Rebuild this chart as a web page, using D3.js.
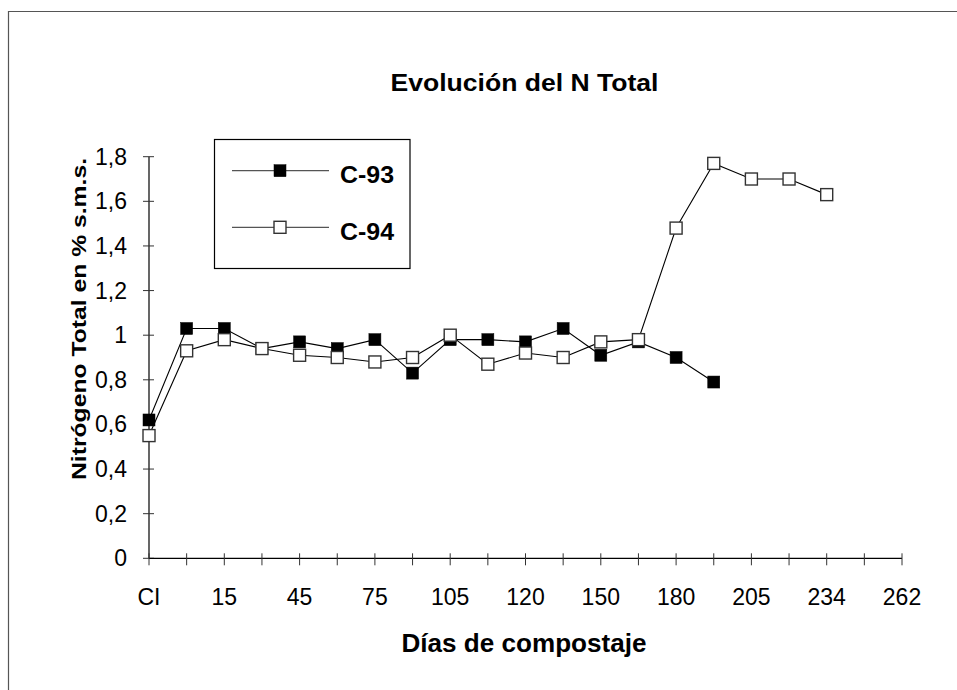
<!DOCTYPE html>
<html>
<head>
<meta charset="utf-8">
<script src="https://cdn.jsdelivr.net/npm/d3@7"></script>
<style>
  html, body { margin: 0; padding: 0; background: #fff; }
  svg { display: block; font-family: "Liberation Sans", Arial, sans-serif; }
</style>
</head>
<body>
<script>
// Composting days (tick labels shown on every other sampling point)
const dayLabels = ["CI", "", "15", "", "45", "", "75", "", "105", "", "120", "", "150", "", "180", "", "205", "", "234", "", "262"];

// Total nitrogen (% dry matter) per sampling point
const seriesC93 = [0.62, 1.03, 1.03, 0.94, 0.97, 0.94, 0.98, 0.83, 0.98, 0.98, 0.97, 1.03, 0.91, 0.97, 0.90, 0.79];
const seriesC94 = [0.55, 0.93, 0.98, 0.94, 0.91, 0.90, 0.88, 0.90, 1.00, 0.87, 0.92, 0.90, 0.97, 0.98, 1.48, 1.77, 1.70, 1.70, 1.63];

const seriesNames = ["C-93", "C-94"];
const yTicks = [0, 0.2, 0.4, 0.6, 0.8, 1, 1.2, 1.4, 1.6, 1.8];

const W = 957, H = 690;
const svg = d3.select("body").append("svg").attr("width", W).attr("height", H);

// Outer frame of the chart area
svg.append("path")
  .attr("d", `M8.5,${H} V11.5 H${W}`)
  .attr("fill", "none").attr("stroke", "#555").attr("stroke-width", 1.2);

const x = d3.scalePoint().domain(d3.range(dayLabels.length)).range([149, 902]);
const y = d3.scaleLinear().domain([0, 1.8]).range([558.3, 156.7]);

const fmt = d => d === 0 ? "0" : (Number.isInteger(d) ? String(d) : d.toFixed(1).replace(".", ","));

// Y axis with crossing ticks
const yAxis = svg.append("g").attr("transform", `translate(${x(0)},0)`);
yAxis.append("line").attr("y1", y(0)).attr("y2", y(1.8)).attr("stroke", "#000").attr("stroke-width", 1.2);
yAxis.selectAll("line.tick").data(yTicks).join("line")
  .attr("class", "tick")
  .attr("x1", -6).attr("x2", 5)
  .attr("y1", d => y(d)).attr("y2", d => y(d))
  .attr("stroke", "#333").attr("stroke-width", 1);
yAxis.selectAll("text").data(yTicks).join("text")
  .attr("x", -22).attr("y", d => y(d))
  .attr("dy", "0.35em")
  .attr("text-anchor", "end")
  .attr("font-size", 23)
  .text(fmt);

// X axis (category) with crossing ticks
const xAxis = svg.append("g").attr("transform", `translate(0,${y(0)})`);
xAxis.append("line").attr("x1", x(0)).attr("x2", x(dayLabels.length - 1)).attr("stroke", "#000").attr("stroke-width", 1.2);
xAxis.selectAll("line.tick").data(d3.range(dayLabels.length)).join("line")
  .attr("class", "tick")
  .attr("x1", d => x(d)).attr("x2", d => x(d))
  .attr("y1", -5).attr("y2", 7)
  .attr("stroke", "#333").attr("stroke-width", 1);
xAxis.selectAll("text").data(d3.range(dayLabels.length).filter(i => dayLabels[i] !== "")).join("text")
  .attr("x", d => x(d)).attr("y", 47)
  .attr("text-anchor", "middle")
  .attr("font-size", 23)
  .text(d => dayLabels[d]);

// Titles
svg.append("text")
  .attr("x", 524.5).attr("y", 91)
  .attr("text-anchor", "middle")
  .attr("font-size", 24).attr("font-weight", "bold")
  .attr("textLength", 268).attr("lengthAdjust", "spacingAndGlyphs")
  .text("Evolución del N Total");

svg.append("text")
  .attr("x", 524).attr("y", 651.5)
  .attr("text-anchor", "middle")
  .attr("font-size", 25).attr("font-weight", "bold")
  .attr("textLength", 245).attr("lengthAdjust", "spacingAndGlyphs")
  .text("Días de compostaje");

svg.append("text")
  .attr("transform", "translate(86,319) rotate(-90)")
  .attr("text-anchor", "middle")
  .attr("font-size", 20.5).attr("font-weight", "bold")
  .attr("textLength", 322).attr("lengthAdjust", "spacingAndGlyphs")
  .text("Nitrógeno Total  en % s.m.s.");

// Series
const line = d3.line().x((d, i) => x(i)).y(d => y(d));
const S = 12;
const styles = [
  { fill: "#000", stroke: "#000" },
  { fill: "#fff", stroke: "#333" }
];

[seriesC93, seriesC94].forEach((vals, k) => {
  const g = svg.append("g");
  g.append("path").datum(vals)
    .attr("d", line)
    .attr("fill", "none").attr("stroke", "#000").attr("stroke-width", 1.1);
  g.selectAll("rect").data(vals).join("rect")
    .attr("x", (d, i) => x(i) - S / 2).attr("y", d => y(d) - S / 2)
    .attr("width", S).attr("height", S)
    .attr("fill", styles[k].fill)
    .attr("stroke", styles[k].stroke).attr("stroke-width", k === 0 ? 0.5 : 1.4);
});

// Legend
const lg = svg.append("g");
lg.append("rect").attr("x", 214.5).attr("y", 139.5).attr("width", 195.5).attr("height", 129)
  .attr("fill", "#fff").attr("stroke", "#000").attr("stroke-width", 1.2);
const legY = [170.7, 227.3];
seriesNames.forEach((name, k) => {
  lg.append("line").attr("x1", 232).attr("x2", 329).attr("y1", legY[k]).attr("y2", legY[k])
    .attr("stroke", "#555").attr("stroke-width", 1.3);
  lg.append("rect").attr("x", 280 - S / 2).attr("y", legY[k] - S / 2).attr("width", S).attr("height", S)
    .attr("fill", styles[k].fill).attr("stroke", styles[k].stroke).attr("stroke-width", k === 0 ? 0.5 : 1.4);
  lg.append("text").attr("x", 340).attr("y", legY[k] + 12.5)
    .attr("font-size", 24).attr("font-weight", "bold")
    .attr("textLength", 54).attr("lengthAdjust", "spacingAndGlyphs")
    .text(name);
});
</script>
</body>
</html>
